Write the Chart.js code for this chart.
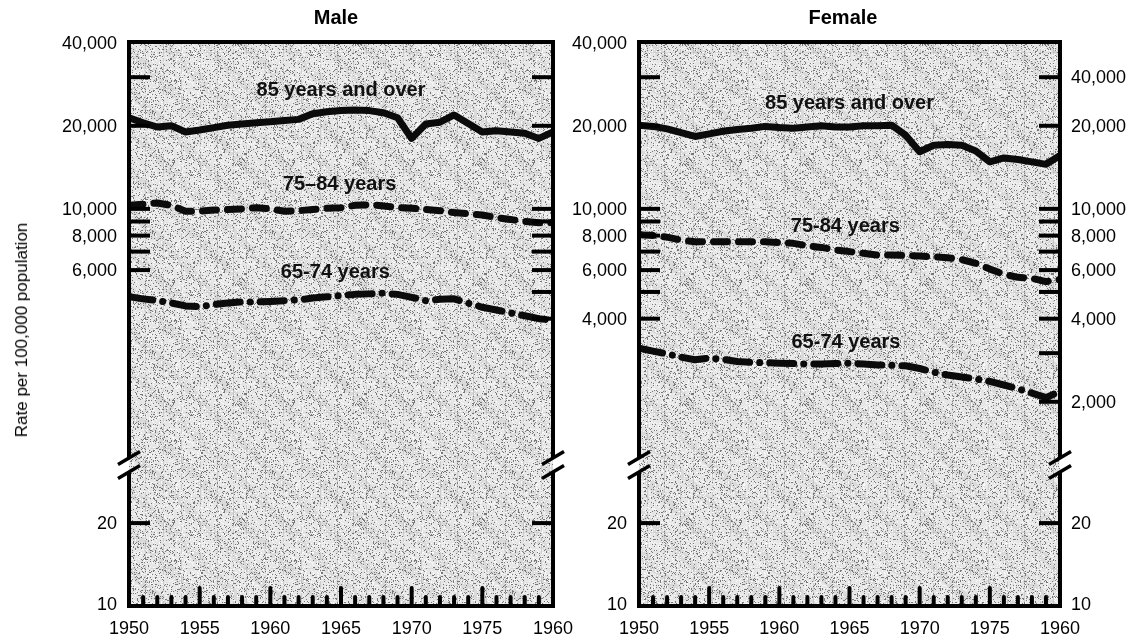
<!DOCTYPE html>
<html>
<head>
<meta charset="utf-8">
<script src="https://cdn.jsdelivr.net/npm/chart.js@4.4.1/dist/chart.umd.min.js"></script>
<style>
  html, body { margin: 0; padding: 0; background: #fff; }
  body { width: 1135px; height: 640px; position: relative; overflow: hidden;
         font-family: "Liberation Sans", Arial, sans-serif; color: #000; }
  canvas { position: absolute; top: 0; }
  #male { left: 0; }
  #female { left: 567px; }
  .panel-title { position: absolute; top: 6px; font-weight: bold; font-size: 20px;
                 transform: translateX(-50%); white-space: nowrap; }
  #y-title { position: absolute; left: 22px; top: 330px; font-size: 17px; white-space: nowrap;
             transform: translate(-50%, -50%) rotate(-90deg); }
</style>
</head>
<body>
<canvas id="male" width="590" height="640"></canvas>
<canvas id="female" width="568" height="640"></canvas>
<div class="panel-title" style="left:336px">Male</div>
<div class="panel-title" style="left:843px">Female</div>
<div id="y-title">Rate per 100,000 population</div>
<script>
// ---- data ----
const years = [1950, 1951, 1952, 1953, 1954, 1955, 1956, 1957, 1958, 1959,
               1960, 1961, 1962, 1963, 1964, 1965, 1966, 1967, 1968, 1969,
               1970, 1971, 1972, 1973, 1974, 1975, 1976, 1977, 1978, 1979, 1980];

const male85 = [21400, 20500, 19800, 20000, 19000, 19300, 19700, 20100, 20300, 20500,
                20700, 20900, 21100, 22100, 22500, 22700, 22800, 22700, 22300, 21400,
                18000, 20300, 20600, 21900, 20400, 19000, 19200, 19000, 18800, 18000, 19000];
const male75 = [10300, 10400, 10500, 10300, 9800, 9800, 9900, 9950, 10000, 10100,
                10000, 9800, 9850, 9950, 10050, 10100, 10300, 10350, 10250, 10100,
                10050, 9950, 9850, 9700, 9600, 9500, 9300, 9150, 9000, 8900, 8900];
const male65 = [4800, 4720, 4650, 4560, 4450, 4420, 4500, 4560, 4600, 4600,
                4620, 4650, 4680, 4750, 4800, 4850, 4900, 4920, 4950, 4900,
                4780, 4650, 4700, 4720, 4550, 4400, 4300, 4200, 4100, 4000, 3950];

const female85 = [20100, 19900, 19500, 18900, 18300, 18700, 19100, 19400, 19600, 19900,
                  19700, 19600, 19800, 20000, 19800, 19800, 20000, 20000, 20100, 18500,
                  16100, 17000, 17100, 17000, 16200, 14800, 15300, 15100, 14800, 14500, 15600];
const female75 = [8050, 8000, 7900, 7700, 7600, 7600, 7600, 7600, 7600, 7600,
                  7550, 7500, 7350, 7250, 7100, 7000, 6900, 6800, 6800, 6780,
                  6750, 6700, 6650, 6550, 6350, 6050, 5800, 5650, 5600, 5450, 5550];
const female65 = [3130, 3050, 2980, 2900, 2840, 2880, 2850, 2800, 2780, 2770,
                  2760, 2750, 2740, 2740, 2750, 2760, 2740, 2720, 2710, 2700,
                  2640, 2560, 2500, 2460, 2420, 2370, 2300, 2230, 2150, 2070, 2180];

// x-axis tick labels (as printed, last one reads 1960)
const xLabelYears = [1950, 1955, 1960, 1965, 1970, 1975, 1980];
const xLabelTexts = ['1950', '1955', '1960', '1965', '1970', '1975', '1960'];
const xMinorYears = [1951, 1952, 1953, 1954, 1956, 1957, 1958, 1959, 1961, 1962, 1963, 1964,
                     1966, 1967, 1968, 1969, 1971, 1972, 1973, 1974, 1976, 1977, 1978, 1979];
const xMajorYears = [1955, 1960, 1965, 1970, 1975];

// y tick marks (upper log part) and labels
const maleLeftTicks = [30000, 20000, 10000, 9000, 8000, 7000, 6000];
const maleRightTicks = [30000, 20000, 10000, 9000, 8000, 7000, 6000, 5000, 4000];
const femaleLeftTicks = [30000, 20000, 10000, 9000, 8000, 7000, 6000, 5000, 4000];
const femaleRightTicks = [30000, 20000, 10000, 9000, 8000, 7000, 6000, 5000, 4000, 3000, 2000];
const lowerTicks = [20];

const maleLeftLabelValues = [40000, 20000, 10000, 8000, 6000];
const maleLeftLabelTexts = ['40,000', '20,000', '10,000', '8,000', '6,000'];
const femaleLeftLabelValues = [40000, 20000, 10000, 8000, 6000, 4000];
const femaleLeftLabelTexts = ['40,000', '20,000', '10,000', '8,000', '6,000', '4,000'];
const femaleRightLabelValues = [30000, 20000, 10000, 8000, 6000, 4000, 2000];
const femaleRightLabelTexts = ['40,000', '20,000', '10,000', '8,000', '6,000', '4,000', '2,000'];
const lowerLabelValues = [20, 10];
const lowerLabelTexts = ['20', '10'];

// ---- drawing helpers ----
const TICK_FONT = '18px "Liberation Sans", Arial, sans-serif';
const NOTE_FONT = 'bold 20px "Liberation Sans", Arial, sans-serif';

let texture = null;
function getTexture(ctx) {
  if (texture) return texture;
  const n = 120;
  const c = document.createElement('canvas');
  c.width = n; c.height = n;
  const g = c.getContext('2d');
  g.fillStyle = '#e6e6e6';
  g.fillRect(0, 0, n, n);
  // faint "\" hatching bands
  g.strokeStyle = 'rgba(120,120,120,0.10)';
  g.lineWidth = 9;
  for (let k = -n; k <= 2 * n; k += 40) {
    g.beginPath(); g.moveTo(k, 0); g.lineTo(k + n, n); g.stroke();
  }
  // a few vertical scan streaks
  g.fillStyle = 'rgba(60,60,60,0.14)';
  [6, 25, 43, 61, 80, 97, 113].forEach(px => g.fillRect(px, 0, 1, n));
  g.fillStyle = 'rgba(60,60,60,0.08)';
  [17, 52, 88].forEach(py => g.fillRect(0, py, n, 1));
  // fixed-hash dither speckle (decoration only)
  const img = g.getImageData(0, 0, n, n);
  for (let py = 0; py < n; py++) {
    for (let px = 0; px < n; px++) {
      let h = Math.imul(px, 374761393) ^ Math.imul(py, 668265263);
      h = Math.imul(h ^ (h >>> 13), 1274126177);
      h = (h ^ (h >>> 16)) >>> 0;
      const r = h & 255;
      const i = (py * n + px) * 4;
      if (r < 34) {
        img.data[i] = img.data[i + 1] = img.data[i + 2] = 120;
      } else if (r < 70) {
        img.data[i] = img.data[i + 1] = img.data[i + 2] = 250;
      }
    }
  }
  g.putImageData(img, 0, 0);
  texture = ctx.createPattern(c, 'repeat');
  return texture;
}

const panelDecor = {
  id: 'panelDecor',
  beforeDatasetsDraw(chart) {
    const { ctx, chartArea: a } = chart;
    ctx.save();
    ctx.fillStyle = getTexture(ctx);
    ctx.fillRect(a.left, a.top, a.right - a.left, a.bottom - a.top);
    ctx.restore();
  },
  afterDatasetsDraw(chart, args, opts) {
    const { ctx, chartArea: a, scales } = chart;
    const xs = scales.x, yUp = scales.y, yLow = scales.y2;
    const brk = yUp.bottom;
    ctx.save();
    ctx.strokeStyle = '#000';
    ctx.fillStyle = '#000';

    // frame, broken on both sides
    ctx.lineWidth = 4;
    ctx.lineJoin = 'miter';
    ctx.beginPath();
    ctx.moveTo(a.left, brk - 7); ctx.lineTo(a.left, a.top);
    ctx.lineTo(a.right, a.top); ctx.lineTo(a.right, brk - 7);
    ctx.moveTo(a.left, brk + 7); ctx.lineTo(a.left, a.bottom);
    ctx.lineTo(a.right, a.bottom); ctx.lineTo(a.right, brk + 7);
    ctx.stroke();

    // break marks
    ctx.lineWidth = 3.5;
    [a.left, a.right].forEach(fx => {
      [brk - 7, brk + 7].forEach(cy => {
        ctx.beginPath();
        ctx.moveTo(fx - 11, cy + 6.5);
        ctx.lineTo(fx + 11, cy - 6.5);
        ctx.stroke();
      });
    });

    // y tick marks, pointing inward
    ctx.lineWidth = 4;
    ctx.lineCap = 'butt';
    const tick = (scale, v, side) => {
      const y = scale.getPixelForValue(v);
      ctx.beginPath();
      if (side === 'left') { ctx.moveTo(a.left, y); ctx.lineTo(a.left + 21, y); }
      else { ctx.moveTo(a.right - 21, y); ctx.lineTo(a.right, y); }
      ctx.stroke();
    };
    opts.leftTicks.forEach(v => tick(yUp, v, 'left'));
    opts.rightTicks.forEach(v => tick(yUp, v, 'right'));
    lowerTicks.forEach(v => { tick(yLow, v, 'left'); tick(yLow, v, 'right'); });

    // x tick marks along the bottom
    ctx.lineCap = 'round';
    xMinorYears.forEach(yr => {
      const x = xs.getPixelForValue(yr);
      ctx.beginPath(); ctx.moveTo(x, a.bottom); ctx.lineTo(x, a.bottom - 9); ctx.stroke();
    });
    xMajorYears.forEach(yr => {
      const x = xs.getPixelForValue(yr);
      ctx.beginPath(); ctx.moveTo(x, a.bottom); ctx.lineTo(x, a.bottom - 18); ctx.stroke();
    });

    // tick labels
    ctx.font = TICK_FONT;
    ctx.textBaseline = 'middle';
    ctx.textAlign = 'center';
    xLabelYears.forEach((yr, i) => ctx.fillText(xLabelTexts[i], xs.getPixelForValue(yr), a.bottom + 23));

    const labelCol = (vals, texts, scale, side) => {
      ctx.textAlign = side === 'left' ? 'right' : 'left';
      const x = side === 'left' ? a.left - 12 : a.right + 11;
      vals.forEach((v, i) => ctx.fillText(texts[i], x, scale.getPixelForValue(v) + 1));
    };
    if (opts.leftLabels) {
      labelCol(opts.leftLabels[0], opts.leftLabels[1], yUp, 'left');
      labelCol(lowerLabelValues, lowerLabelTexts, yLow, 'left');
    }
    if (opts.rightLabels) {
      labelCol(opts.rightLabels[0], opts.rightLabels[1], yUp, 'right');
      labelCol(lowerLabelValues, lowerLabelTexts, yLow, 'right');
    }

    // series names written on the plot
    ctx.font = NOTE_FONT;
    ctx.textAlign = 'center';
    ctx.fillStyle = '#111';
    opts.notes.forEach(n => ctx.fillText(n.text, xs.getPixelForValue(n.year), yUp.getPixelForValue(n.value)));
    ctx.restore();
  }
};

function series(values, dash) {
  return {
    data: years.map((yr, i) => ({ x: yr, y: values[i] })),
    yAxisID: 'y',
    borderColor: '#0b0b0b',
    borderWidth: 7,
    borderDash: dash,
    borderCapStyle: 'round',
    borderJoinStyle: 'round',
    pointRadius: 0,
    tension: 0,
    fill: false
  };
}

const DASH_75 = [14, 11];
const DASH_65 = [24, 10, 0.1, 10];

function makePanel(id, s85, s75, s65, padding, decor) {
  return new Chart(document.getElementById(id), {
    type: 'line',
    data: { datasets: [series(s85, []), series(s75, DASH_75), series(s65, DASH_65)] },
    options: {
      responsive: false,
      animation: false,
      layout: { padding: padding },
      plugins: { legend: { display: false }, tooltip: { enabled: false }, panelDecor: decor },
      scales: {
        x: { type: 'linear', min: 1950, max: 1980, display: false },
        // upper (log) part and lower part below the axis break, stacked top to bottom
        y: { type: 'logarithmic', position: 'right', min: 1180, max: 40240, display: false,
             stack: 'rate', stackWeight: 423 },
        y2: { type: 'logarithmic', position: 'right', min: 9.83, max: 32.9, display: false,
              stack: 'rate', stackWeight: 141 }
      }
    },
    plugins: [panelDecor]
  });
}

makePanel('male', male85, male75, male65,
  { left: 129, right: 37, top: 42, bottom: 34 },
  {
    leftTicks: maleLeftTicks,
    rightTicks: maleRightTicks,
    leftLabels: [maleLeftLabelValues, maleLeftLabelTexts],
    rightLabels: null,
    notes: [
      { text: '85 years and over', year: 1965.0, value: 26960 },
      { text: '75\u201384 years', year: 1964.9, value: 12210 },
      { text: '65-74 years', year: 1964.6, value: 5860 }
    ]
  });

makePanel('female', female85, female75, female65,
  { left: 72, right: 75, top: 42, bottom: 34 },
  {
    leftTicks: femaleLeftTicks,
    rightTicks: femaleRightTicks,
    leftLabels: [femaleLeftLabelValues, femaleLeftLabelTexts],
    rightLabels: [femaleRightLabelValues, femaleRightLabelTexts],
    notes: [
      { text: '85 years and over', year: 1965.0, value: 24190 },
      { text: '75-84 years', year: 1964.7, value: 8600 },
      { text: '65-74 years', year: 1964.75, value: 3266 }
    ]
  });
</script>
</body>
</html>
